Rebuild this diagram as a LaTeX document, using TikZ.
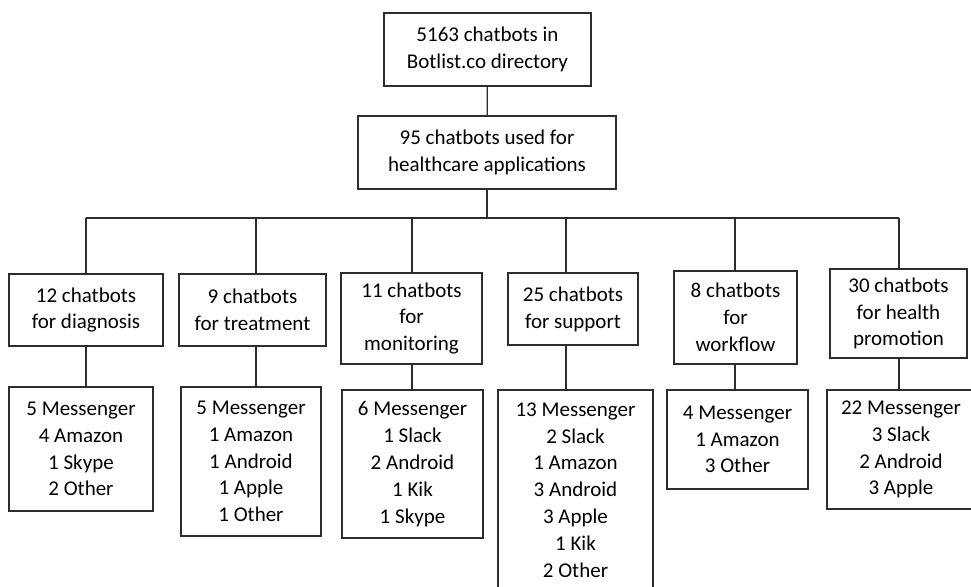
\documentclass[tikz,border=0pt]{standalone}
\usepackage{fontspec}
\setmainfont{Carlito}
\usepackage{tikz}
\definecolor{ln}{RGB}{45, 45, 45}
\usetikzlibrary{positioning}
\tikzset{
  box/.style={rectangle, draw=ln, line width=1.3pt, inner sep=0pt, align=center,
    font=\fontsize{21pt}{26.8pt}\selectfont},
  link/.style={line width=1.3pt, color=ln}
}

\begin{document}
\begin{tikzpicture}
\useasboundingbox (0pt, 0pt) rectangle (971pt, -586pt);
\node (top) [box, minimum width=207pt, minimum height=73pt] at (487.5pt, -49.5pt) {5163 chatbots in\\Botlist.co directory};
\node (hc) [box, minimum width=258pt, minimum height=73pt] at (487pt, -152.5pt) {95 chatbots used for\\healthcare applications};
\node (diag) [box, minimum width=154pt, minimum height=72pt] at (86pt, -310pt) {12 chatbots\\for diagnosis};
\node (treat) [box, minimum width=147pt, minimum height=72pt] at (252.5pt, -310pt) {9 chatbots\\for treatment};
\node (monit) [box, minimum width=141pt, minimum height=91pt] at (411.5pt, -318.5pt) {11 chatbots\\for\\monitoring};
\node (supp) [box, minimum width=130pt, minimum height=72pt] at (573pt, -309pt) {25 chatbots\\for support};
\node (work) [box, minimum width=123pt, minimum height=93pt] at (735.5pt, -317.5pt) {8 chatbots\\for\\workflow};
\node (promo) [box, minimum width=137pt, minimum height=89pt] at (898.5pt, -313.5pt) {30 chatbots\\for health\\promotion};
\node (diagP) [box, minimum width=144pt, minimum height=124pt] at (81pt, -449pt) {5 Messenger\\4 Amazon\\1 Skype\\2 Other};
\node (treatP) [box, minimum width=140pt, minimum height=149pt] at (251pt, -461.5pt) {5 Messenger\\1 Amazon\\1 Android\\1 Apple\\1 Other};
\node (monitP) [box, minimum width=141pt, minimum height=148pt] at (412.5pt, -464pt) {6 Messenger\\1 Slack\\2 Android\\1 Kik\\1 Skype};
\node (suppP) [box, minimum width=155pt, minimum height=200pt] at (575.5pt, -490pt) {13 Messenger\\2 Slack\\1 Amazon\\3 Android\\3 Apple\\1 Kik\\2 Other};
\node (workP) [box, minimum width=141pt, minimum height=99pt] at (737.5pt, -439.5pt) {4 Messenger\\1 Amazon\\3 Other};
\node (promoP) [box, minimum width=148pt, minimum height=119pt] at (901pt, -449.5pt) {22 Messenger\\3 Slack\\2 Android\\3 Apple};
\coordinate (jA) at (86pt, -218pt);
\coordinate (jB) at (256pt, -218pt);
\coordinate (jC) at (412pt, -218pt);
\coordinate (jD) at (566pt, -218pt);
\coordinate (jE) at (735pt, -218pt);
\coordinate (jF) at (899pt, -218pt);
\draw [link] (top) to (hc);
\draw [link] (hc.south) to (hc.south |- jA);
\draw [link] (jA) to (jF);
\foreach \j/\a/\b in {jA/diag/diagP, jB/treat/treatP, jC/monit/monitP, jD/supp/suppP, jE/work/workP, jF/promo/promoP} {
  \draw [link] (\j) to (\j |- \a.north);
  \draw [link] (\j |- \a.south) to (\j |- \b.north);
}
\end{tikzpicture}
\end{document}
